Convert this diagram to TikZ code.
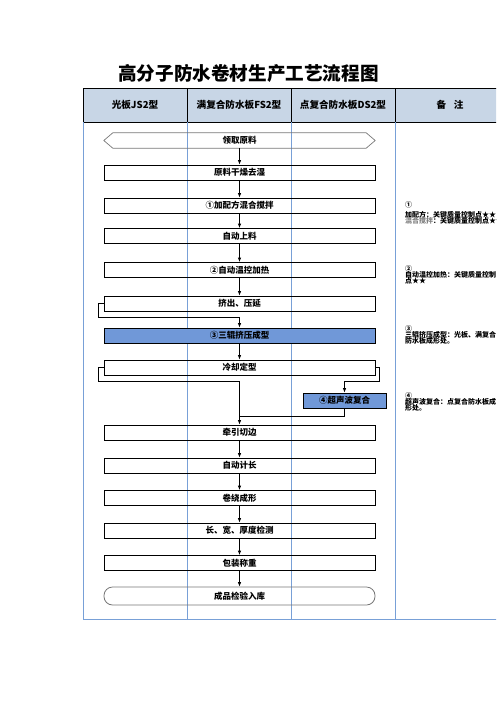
\documentclass[tikz,border=0pt]{standalone}
\usepackage{fontspec}
\setmainfont{Noto Sans CJK SC}
\usetikzlibrary{arrows.meta}
\definecolor{hdrfill}{RGB}{200,214,230}
\definecolor{gridblue}{RGB}{120,160,215}
\definecolor{boxblue}{RGB}{112,152,216}
\definecolor{outgray}{RGB}{120,120,120}
\tikzset{
  stepbox/.style={draw=black, line width=0.8pt, minimum width=271pt, minimum height=15pt, inner sep=0pt,
    font=\fontsize{8.5}{10}\selectfont\bfseries},
  bluebox/.style={stepbox, fill=boxblue},
  arr/.style={line width=0.8pt, -{Latex[length=4.5pt,width=3.5pt]}},
  ln/.style={line width=0.8pt},
  hdr/.style={font=\fontsize{9.6}{10}\selectfont\bfseries, inner sep=0pt},
  note/.style={anchor=west, inner sep=0pt, font=\fontsize{7}{7}\selectfont\bfseries}
}
\begin{document}
\begin{tikzpicture}[x=1pt,y=-1pt]
\useasboundingbox (0,0) rectangle (496,702);
\clip (0,0) rectangle (496,702);
% title
\node[font=\fontsize{18.6}{20}\selectfont\bfseries, inner sep=0pt] (title) at (248.5,73) {高分子防水卷材生产工艺流程图};
% header
\fill[hdrfill] (83,88) rectangle (500,122);
\draw[line width=0.8pt] (83,122) -- (83,88) -- (500,88);
\draw[line width=0.8pt] (83,122) -- (500,122);
\draw[line width=0.8pt] (187,88) -- (187,122) (291,88) -- (291,122) (395,88) -- (395,122);
\node[hdr] (h1) at (135,105) {光板JS2型};
\node[hdr] (h2) at (239,105) {满复合防水板FS2型};
\node[hdr] (h3) at (343,105) {点复合防水板DS2型};
\node[hdr] (h4) at (450,105) {备\hspace{0.8em}注};
% grid body
\draw[gridblue, line width=0.8pt] (83,122) -- (83,619) -- (500,619);
\draw[gridblue, line width=0.8pt] (187,122) -- (187,619) (291,122) -- (291,619) (395,122) -- (395,619);
% flow
\node[minimum width=271pt, minimum height=15pt, inner sep=0pt, font=\fontsize{8.5}{10}\selectfont\bfseries] (n0) at (239.5,140.5) {领取原料};
\draw[outgray, line width=0.7pt] (n0.west) -- ([xshift=9pt]n0.north west) -- ([xshift=-9pt]n0.north east) -- (n0.east) -- ([xshift=-9pt]n0.south east) -- ([xshift=9pt]n0.south west) -- cycle;
\node[stepbox] (n1) at (239.5,172.5) {原料干燥去湿};
\node[stepbox] (n2) at (239.5,205.5) {①加配方混合搅拌};
\node[stepbox] (n3) at (239.5,236) {自动上料};
\node[stepbox] (n4) at (239.5,270) {②自动温控加热};
\node[stepbox] (n5) at (239.5,303.5) {挤出、压延};
\node[bluebox] (n6) at (239.5,335.5) {③三辊挤压成型};
\node[stepbox] (n7) at (239.5,367.5) {冷却定型};
\node[bluebox, minimum width=83pt] (n8) at (344.5,400.5) {④超声波复合};
\node[stepbox] (n9) at (239.5,432.5) {牵引切边};
\node[stepbox] (n10) at (239.5,465.5) {自动计长};
\node[stepbox] (n11) at (239.5,498) {卷绕成形};
\node[stepbox] (n12) at (239.5,530.5) {长、宽、厚度检测};
\node[stepbox] (n13) at (239.5,563) {包装称重};
\node[stepbox, draw=outgray, minimum height=18pt, rounded corners=8.5pt] (n14) at (239.5,596) {成品检验入库};
\coordinate (j1) at (239.5,317);
\coordinate (j2) at (239.5,381);
\coordinate (j3) at (239.5,416);
\coordinate (j4) at (344.5,381);
\draw[arr] (n0) -- (n1);
\draw[arr] (n1) -- (n2);
\draw[arr] (n2) -- (n3);
\draw[arr] (n3) -- (n4);
\draw[arr] (n4) -- (n5);
\draw[ln] (n5.west) -- ++(-5,0) |- (j1);
\draw[arr] (j1) -- (n6.north);
\draw[arr] (n6) -- (n7);
\draw[ln] (n7.west) -- ++(-5,0) |- (j2);
\draw[arr] (j2) -- (n9.north);
\draw[ln] (n7.east) -- ++(4,0) |- (j4);
\draw[arr] (j4) -- (n8.north);
\draw[ln] (n8.south) |- (j3);
\draw[arr] (n9) -- (n10);
\draw[arr] (n10) -- (n11);
\draw[arr] (n11) -- (n12);
\draw[arr] (n12) -- (n13);
\draw[arr] (n13) -- (n14);
% notes
\node[note] (c1) at (405,205) {①};
\node[note] (c1a) at (405,214.5) {加配方：关键质量控制点★★};
\node[note] (c1b) at (405,221) {\textcolor{gray}{混合搅拌}：关键质量控制点★★};
\node[note] (c2) at (405,269) {②};
\node[note] (c2a) at (405,275) {自动温控加热：关键质量控制};
\node[note] (c2b) at (405,281) {点★★};
\node[note] (c3) at (405,329) {③};
\node[note] (c3a) at (405,335) {三辊挤压成型：光板、满复合};
\node[note] (c3b) at (405,341) {防水板成形处。};
\node[note] (c4) at (405,396) {④};
\node[note] (c4a) at (405,402) {超声波复合：点复合防水板成};
\node[note] (c4b) at (405,408) {形处。};
\end{tikzpicture}
\end{document}
